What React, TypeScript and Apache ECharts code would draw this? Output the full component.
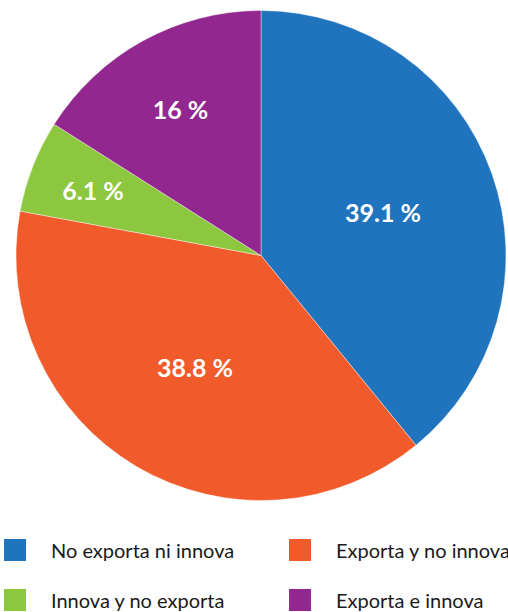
import React, { useEffect, useRef } from "react";
import * as echarts from "echarts";

const categories = ["No exporta ni innova", "Exporta y no innova", "Innova y no exporta", "Exporta e innova"];
const values = [39.1, 38.8, 6.1, 16];
const colors = ["#1F74BD", "#F15A2A", "#8DC63F", "#92278F"];
const legendColumn1 = ["No exporta ni innova", "Innova y no exporta"];
const legendColumn2 = ["Exporta y no innova", "Exporta e innova"];

const FONT = "Lato, 'Open Sans', sans-serif";

export default function App() {
  const ref = useRef<HTMLDivElement>(null);
  useEffect(() => {
    document.body.style.margin = "0";
    const chart = echarts.init(ref.current!, null, { renderer: "svg" });
    const center = [261, 255.5];
    const R = 245;
    const mainData = categories.map((name, i) => ({
      name,
      value: values[i],
      itemStyle: { color: colors[i] },
    }));
    const labelSeries = (inner: number, show: number[]) => ({
      type: "pie",
      center,
      radius: [inner, R],
      startAngle: 90,
      silent: true,
      legendHoverLink: false,
      z: 5,
      data: categories.map((name, i) => ({
        name: name + " ",
        value: values[i],
        itemStyle: { color: "rgba(0,0,0,0)" },
        label: { show: show.includes(i) },
      })),
      label: {
        position: "inside",
        formatter: (p: any) => `${p.value} %`,
        color: "#ffffff",
        fontFamily: FONT,
        fontWeight: "bold",
        fontSize: 25,
      },
      labelLine: { show: false },
      emphasis: { disabled: true },
    });
    const legendBase = {
      orient: "horizontal",
      padding: 0,
      itemWidth: 24,
      itemHeight: 24,
      icon: "rect",
      selectedMode: false,
      textStyle: { fontFamily: FONT, fontSize: 20, color: "#1a1a1a", padding: [0, 0, 0, 19] },
    };
    const rowTops = [537, 587];
    const legends: any[] = [];
    legendColumn1.forEach((name, r) => legends.push({ ...legendBase, left: 2, top: rowTops[r], data: [name] }));
    legendColumn2.forEach((name, r) => legends.push({ ...legendBase, left: 287, top: rowTops[r], data: [name] }));
    chart.setOption({
      animation: false,
      backgroundColor: "#ffffff",
      legend: legends,
      series: [
        {
          type: "pie",
          center,
          radius: [0, R],
          startAngle: 90,
          data: mainData,
          label: { show: false },
          labelLine: { show: false },
          itemStyle: { borderColor: "#ffffff", borderWidth: 0.4 },
          emphasis: { disabled: true },
        },
        labelSeries(8, [0, 1]),
        labelSeries(110, [2]),
        labelSeries(83, [3]),
      ],
    });
    return () => chart.dispose();
  }, []);
  return <div ref={ref} style={{ width: 508, height: 612, position: "absolute", left: 0, top: 0 }} />;
}
